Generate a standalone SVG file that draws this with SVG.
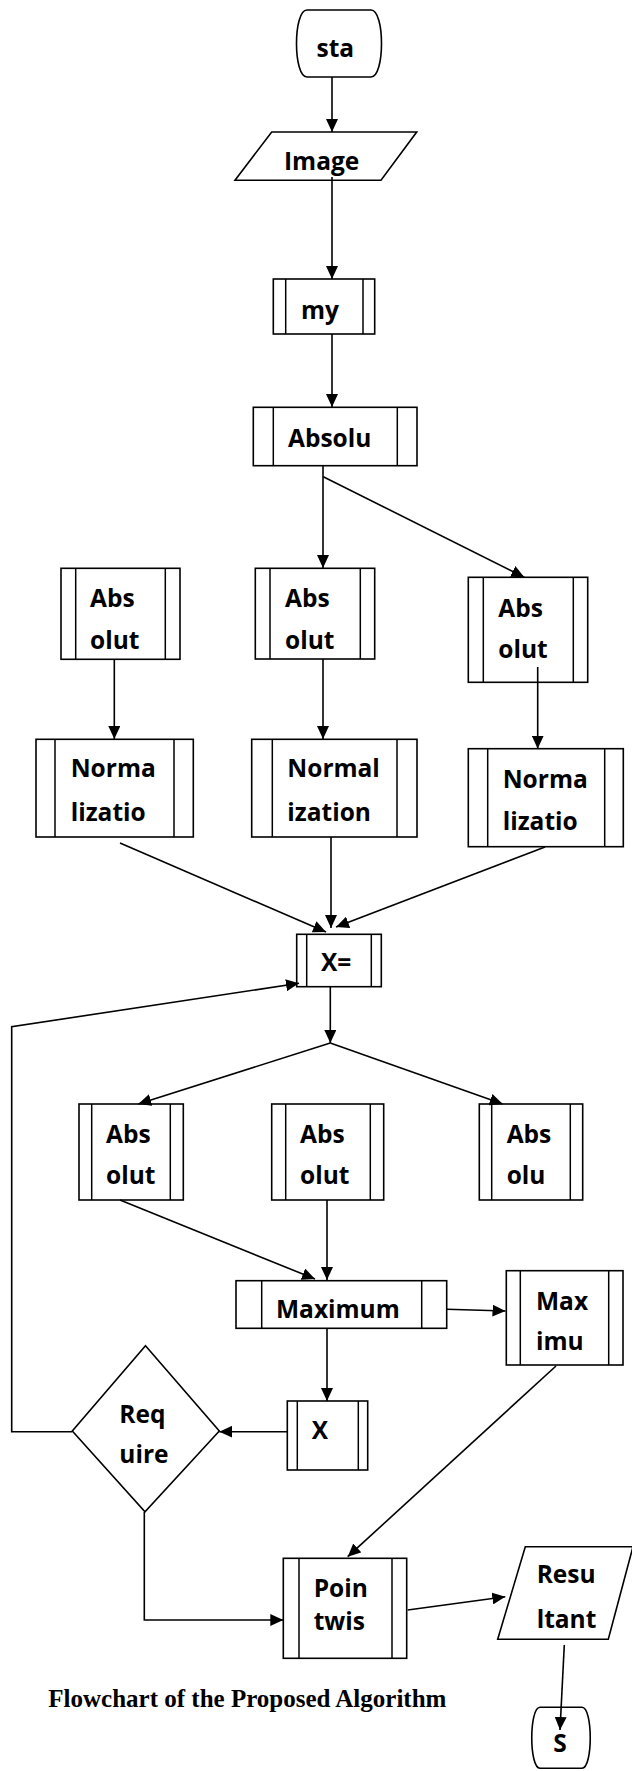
<svg xmlns="http://www.w3.org/2000/svg" width="632" height="1771" viewBox="0 0 632 1771">
<style>
.b{fill:#fff;stroke:#000;stroke-width:1.6}
.i{stroke:#000;stroke-width:1.5}
.t{font-family:"Open Sans","Noto Sans","Liberation Sans",sans-serif;font-weight:bold;font-size:24.5px;fill:#000}
.c{fill:none;stroke:#000;stroke-width:1.6}
.cap{font-family:"Liberation Serif","Times New Roman",serif;font-weight:bold;font-size:25px;fill:#000}
</style>
<defs>
<marker id="ah" markerUnits="userSpaceOnUse" markerWidth="14" markerHeight="12" refX="13" refY="6" orient="auto">
<path d="M0,0 L13,6 L0,12 Z" fill="#000"/>
</marker>
</defs>
<rect width="632" height="1771" fill="#fff"/>

<g id="start">
<path class="b" d="M307,10 H371 C385,10 385,77 371,77 H307 C293,77 293,10 307,10 Z"/>
<text class="t" x="316.5" y="57">sta</text>
</g>
<g id="image">
<polygon class="b" points="271.7,132 416.7,132 381,180.3 235,180.3"/>
<text class="t" x="284" y="170">Image</text>
</g>
<g id="my">
<rect class="b" x="273.3" y="279" width="101.4" height="55"/>
<line class="i" x1="285.7" y1="279" x2="285.7" y2="334"/><line class="i" x1="363" y1="279" x2="363" y2="334"/>
<text class="t" x="301" y="319">my</text>
</g>
<g id="absolu">
<rect class="b" x="253.3" y="407.3" width="163.7" height="58.4"/>
<line class="i" x1="273.3" y1="407.3" x2="273.3" y2="465.7"/><line class="i" x1="397.3" y1="407.3" x2="397.3" y2="465.7"/>
<text class="t" x="288" y="446.7">Absolu</text>
</g>
<g id="abs-l1">
<rect class="b" x="61" y="568.3" width="119" height="91"/>
<line class="i" x1="75.7" y1="568.3" x2="75.7" y2="659.3"/><line class="i" x1="165.3" y1="568.3" x2="165.3" y2="659.3"/>
<text class="t" x="90" y="606.7">Abs</text><text class="t" x="90" y="649">olut</text>
</g>
<g id="abs-m1">
<rect class="b" x="255.3" y="568.3" width="119.4" height="90.7"/>
<line class="i" x1="270" y1="568.3" x2="270" y2="659"/><line class="i" x1="360.3" y1="568.3" x2="360.3" y2="659"/>
<text class="t" x="285" y="606.7">Abs</text><text class="t" x="285" y="649">olut</text>
</g>
<g id="abs-r1">
<rect class="b" x="468.3" y="577.3" width="119.4" height="105"/>
<line class="i" x1="483.3" y1="577.3" x2="483.3" y2="682.3"/><line class="i" x1="573.3" y1="577.3" x2="573.3" y2="682.3"/>
<text class="t" x="498.3" y="616.7">Abs</text><text class="t" x="498.3" y="657.7">olut</text>
</g>
<g id="norm-l">
<rect class="b" x="36" y="739.3" width="157.3" height="97.7"/>
<line class="i" x1="55" y1="739.3" x2="55" y2="837"/><line class="i" x1="174" y1="739.3" x2="174" y2="837"/>
<text class="t" x="70.7" y="777">Norma</text><text class="t" x="70.7" y="820.5">lizatio</text>
</g>
<g id="norm-m">
<rect class="b" x="251.7" y="739.3" width="165.3" height="97.7"/>
<line class="i" x1="272.3" y1="739.3" x2="272.3" y2="837"/><line class="i" x1="397" y1="739.3" x2="397" y2="837"/>
<text class="t" x="287.3" y="777">Normal</text><text class="t" x="287.3" y="820.5">ization</text>
</g>
<g id="norm-r">
<rect class="b" x="468.3" y="748.7" width="155" height="98"/>
<line class="i" x1="487.7" y1="748.7" x2="487.7" y2="846.7"/><line class="i" x1="604.7" y1="748.7" x2="604.7" y2="846.7"/>
<text class="t" x="502.7" y="788.3">Norma</text><text class="t" x="502.7" y="830">lizatio</text>
</g>
<g id="xeq">
<rect class="b" x="296.7" y="934.3" width="84.6" height="52.4"/>
<line class="i" x1="306.7" y1="934.3" x2="306.7" y2="986.7"/><line class="i" x1="371.3" y1="934.3" x2="371.3" y2="986.7"/>
<text class="t" x="321" y="971">X=</text>
</g>
<g id="abs-l2">
<rect class="b" x="79" y="1104" width="104.3" height="96"/>
<line class="i" x1="91.7" y1="1104" x2="91.7" y2="1200"/><line class="i" x1="170.3" y1="1104" x2="170.3" y2="1200"/>
<text class="t" x="106" y="1143.3">Abs</text><text class="t" x="106" y="1184">olut</text>
</g>
<g id="abs-m2">
<rect class="b" x="271.7" y="1104" width="112" height="96"/>
<line class="i" x1="285.7" y1="1104" x2="285.7" y2="1200"/><line class="i" x1="370.3" y1="1104" x2="370.3" y2="1200"/>
<text class="t" x="300" y="1143.3">Abs</text><text class="t" x="300" y="1184">olut</text>
</g>
<g id="abs-r2">
<rect class="b" x="479.3" y="1104" width="103.4" height="96"/>
<line class="i" x1="491.7" y1="1104" x2="491.7" y2="1200"/><line class="i" x1="570.3" y1="1104" x2="570.3" y2="1200"/>
<text class="t" x="506.7" y="1143.3">Abs</text><text class="t" x="506.7" y="1184">olu</text>
</g>
<g id="maximum">
<rect class="b" x="236" y="1280.7" width="210.7" height="47.6"/>
<line class="i" x1="261.7" y1="1280.7" x2="261.7" y2="1328.3"/><line class="i" x1="421.7" y1="1280.7" x2="421.7" y2="1328.3"/>
<text class="t" x="276" y="1318.3">Maximum</text>
</g>
<g id="maximu">
<rect class="b" x="506.3" y="1270.7" width="116.7" height="94.3"/>
<line class="i" x1="520.3" y1="1270.7" x2="520.3" y2="1365"/><line class="i" x1="608.7" y1="1270.7" x2="608.7" y2="1365"/>
<text class="t" x="536" y="1310">Max</text><text class="t" x="536" y="1350">imu</text>
</g>
<g id="x">
<rect class="b" x="287.3" y="1401" width="80.4" height="69"/>
<line class="i" x1="297.3" y1="1401" x2="297.3" y2="1470"/><line class="i" x1="358.3" y1="1401" x2="358.3" y2="1470"/>
<text class="t" x="311.7" y="1439">X</text>
</g>
<g id="require">
<polygon class="b" points="145.5,1345.7 219.3,1431 145,1511.7 72.3,1431"/>
<text class="t" x="119.3" y="1423.3">Req</text><text class="t" x="119.3" y="1463.3">uire</text>
</g>
<g id="pointwis">
<rect class="b" x="283.3" y="1558.3" width="123.4" height="100"/>
<line class="i" x1="299" y1="1558.3" x2="299" y2="1658.3"/><line class="i" x1="392" y1="1558.3" x2="392" y2="1658.3"/>
<text class="t" x="313.7" y="1596.7">Poin</text><text class="t" x="313.7" y="1630">twis</text>
</g>
<g id="resultant">
<polygon class="b" points="525.3,1546.7 633,1546.7 608.3,1639.3 497.7,1639.3"/>
<text class="t" x="536.7" y="1583.3">Resu</text><text class="t" x="536.7" y="1628.3">ltant</text>
</g>
<g id="end">
<path class="b" d="M540,1707.3 H582 C593,1707.3 593,1768.3 582,1768.3 H540 C529,1768.3 529,1707.3 540,1707.3 Z"/>
<text class="t" x="553.3" y="1751.7">S</text>
</g>

<g id="connectors">
<line class="c" x1="332" y1="77" x2="332" y2="132" marker-end="url(#ah)"/>
<line class="c" x1="332" y1="177" x2="332" y2="279" marker-end="url(#ah)"/>
<line class="c" x1="332" y1="334" x2="332" y2="407" marker-end="url(#ah)"/>
<line class="c" x1="323" y1="466" x2="323" y2="568" marker-end="url(#ah)"/>
<line class="c" x1="323.3" y1="476.7" x2="524.3" y2="577.3" marker-end="url(#ah)"/>
<line class="c" x1="114.3" y1="659" x2="114.3" y2="739" marker-end="url(#ah)"/>
<line class="c" x1="323" y1="659" x2="323" y2="739" marker-end="url(#ah)"/>
<line class="c" x1="537.7" y1="667" x2="537.7" y2="748.7" marker-end="url(#ah)"/>
<line class="c" x1="120" y1="843" x2="326" y2="932" marker-end="url(#ah)"/>
<line class="c" x1="331" y1="837" x2="331" y2="928" marker-end="url(#ah)"/>
<line class="c" x1="545" y1="847" x2="336" y2="927" marker-end="url(#ah)"/>
<line class="c" x1="330.3" y1="987" x2="330.3" y2="1043" marker-end="url(#ah)"/>
<line class="c" x1="330.3" y1="1043" x2="138.3" y2="1104" marker-end="url(#ah)"/>
<line class="c" x1="330.3" y1="1043" x2="502.7" y2="1104" marker-end="url(#ah)"/>
<line class="c" x1="120" y1="1200" x2="315" y2="1279" marker-end="url(#ah)"/>
<line class="c" x1="327" y1="1200" x2="327" y2="1280" marker-end="url(#ah)"/>
<line class="c" x1="446.7" y1="1309.3" x2="505.5" y2="1311" marker-end="url(#ah)"/>
<line class="c" x1="327" y1="1328.3" x2="327" y2="1401" marker-end="url(#ah)"/>
<line class="c" x1="287.3" y1="1431.7" x2="219.3" y2="1431.7" marker-end="url(#ah)"/>
<polyline class="c" points="72.3,1431.7 11.7,1431.7 11.7,1026.7 299,983.3" marker-end="url(#ah)"/>
<polyline class="c" points="144.3,1512 144.3,1620 283.3,1620" marker-end="url(#ah)"/>
<line class="c" x1="556" y1="1366" x2="347.7" y2="1556.7" marker-end="url(#ah)"/>
<line class="c" x1="407.7" y1="1610" x2="505.3" y2="1596.7" marker-end="url(#ah)"/>
<line class="c" x1="564.3" y1="1645" x2="560" y2="1730" marker-end="url(#ah)"/>
</g>

<text class="cap" x="48.3" y="1706.7">Flowchart of the Proposed Algorithm</text>
</svg>
